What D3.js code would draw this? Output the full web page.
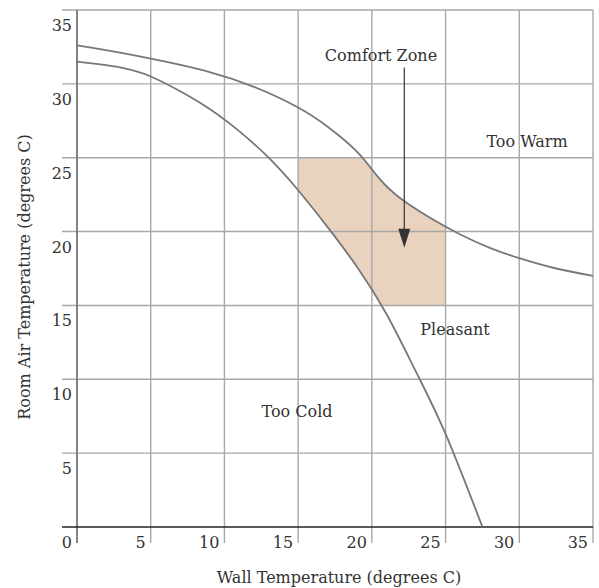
<!DOCTYPE html>
<html>
<head>
<meta charset="utf-8">
<script src="https://d3js.org/d3.v7.min.js"></script>
<style>
  body { margin: 0; background: #fff; }
  text { font-family: "DejaVu Serif", serif; fill: #333; }
</style>
</head>
<body>
<div id="chart"></div>
<script>
var svgWidth = 599;
var svgHeight = 588;

var margin = { top: 10, right: 6, bottom: 61, left: 77 };
var width = svgWidth - margin.left - margin.right;
var height = svgHeight - margin.top - margin.bottom;

// ticks
var xTicks = [0, 5, 10, 15, 20, 25, 30, 35];
var yTicks = [0, 5, 10, 15, 20, 25, 30, 35];

// boundary between "Too Warm" and the rest
var upperX = [0, 3, 6, 9, 12, 15, 17, 19, 20.5, 22, 24, 26, 28, 30, 32.5, 35];
var upperY = [32.6, 32.1, 31.5, 30.8, 29.8, 28.4, 27.1, 25.4, 23.6, 22.2, 20.9, 19.8, 18.9, 18.2, 17.5, 17.0];

// boundary between "Too Cold" and the rest
var lowerX = [0, 3, 5, 7, 9, 11, 13, 15, 17, 19, 21, 23, 25, 27.5];
var lowerY = [31.5, 31.1, 30.5, 29.5, 28.3, 26.8, 25.0, 22.8, 20.3, 17.6, 14.4, 10.5, 6.3, 0];

// comfort zone box (wall x, air y)
var zoneX = [15, 25];
var zoneY = [15, 25];

// arrow from label into the zone
var arrowX = 22.2;
var arrowFrom = 31.1;
var arrowTo = 18.9;

var upper = upperX.map((d, i) => ({ x: d, y: upperY[i] }));
var lower = lowerX.map((d, i) => ({ x: d, y: lowerY[i] }));

var svg = d3.select("#chart")
    .append("svg")
    .attr("width", svgWidth)
    .attr("height", svgHeight);

var chartGroup = svg.append("g")
    .attr("transform", `translate(${margin.left}, ${margin.top})`);

var x = d3.scaleLinear().domain([0, 35]).range([0, width]);
var y = d3.scaleLinear().domain([0, 35]).range([height, 0]);

var curve = d3.curveNatural;

// clip paths: below the upper curve and above the lower curve
var defs = svg.append("defs");
defs.append("clipPath").attr("id", "belowUpper")
    .append("path")
    .attr("d", d3.area().x(d => x(d.x)).y0(y(0)).y1(d => y(d.y)).curve(curve)(upper));
defs.append("clipPath").attr("id", "aboveLower")
    .append("path")
    .attr("d", d3.area().x(d => x(d.x)).y0(y(35)).y1(d => y(d.y)).curve(curve)(lower));

// shaded comfort zone
chartGroup.append("g")
    .attr("clip-path", "url(#belowUpper)")
    .append("rect")
    .attr("clip-path", "url(#aboveLower)")
    .attr("x", x(zoneX[0]))
    .attr("y", y(zoneY[1]))
    .attr("width", x(zoneX[1]) - x(zoneX[0]))
    .attr("height", y(zoneY[0]) - y(zoneY[1]))
    .attr("fill", "#e9d2be");

// grid
chartGroup.append("g").selectAll("line")
    .data(yTicks.filter(d => d > 0))
    .enter()
    .append("line")
    .attr("x1", -15)
    .attr("x2", width)
    .attr("y1", d => y(d))
    .attr("y2", d => y(d))
    .attr("stroke", "#a8a8a8")
    .attr("stroke-width", 1.4);

chartGroup.append("g").selectAll("line")
    .data(xTicks.filter(d => d > 0))
    .enter()
    .append("line")
    .attr("x1", d => x(d))
    .attr("x2", d => x(d))
    .attr("y1", 0)
    .attr("y2", height + 16)
    .attr("stroke", "#a8a8a8")
    .attr("stroke-width", 1.4);

// axes lines
chartGroup.append("line")
    .attr("x1", x(0)).attr("x2", x(0))
    .attr("y1", 0).attr("y2", height + 16)
    .attr("stroke", "#777")
    .attr("stroke-width", 1.8);

chartGroup.append("line")
    .attr("x1", -15).attr("x2", width)
    .attr("y1", y(0)).attr("y2", y(0))
    .attr("stroke", "#222")
    .attr("stroke-width", 1.6);

// tick labels
chartGroup.append("g").selectAll("text")
    .data(yTicks)
    .enter()
    .append("text")
    .attr("x", -5)
    .attr("y", d => y(d) + 21)
    .attr("text-anchor", "end")
    .style("font-size", "16px")
    .text(d => d);

chartGroup.append("g").selectAll("text")
    .data(xTicks.filter(d => d > 0))
    .enter()
    .append("text")
    .attr("x", d => x(d) - 5)
    .attr("y", height + 21)
    .attr("text-anchor", "end")
    .style("font-size", "16px")
    .text(d => d);

// boundary curves
var line = d3.line().x(d => x(d.x)).y(d => y(d.y)).curve(curve);

chartGroup.append("path")
    .datum(upper)
    .attr("d", line)
    .attr("fill", "none")
    .attr("stroke", "#777")
    .attr("stroke-width", 1.8);

chartGroup.append("path")
    .datum(lower)
    .attr("d", line)
    .attr("fill", "none")
    .attr("stroke", "#777")
    .attr("stroke-width", 1.8);

// arrow
chartGroup.append("line")
    .attr("x1", x(arrowX)).attr("x2", x(arrowX))
    .attr("y1", y(arrowFrom)).attr("y2", y(arrowTo) - 10)
    .attr("stroke", "#333")
    .attr("stroke-width", 1.2);

chartGroup.append("path")
    .attr("d", `M${x(arrowX) - 6},${y(arrowTo) - 19} L${x(arrowX) + 6},${y(arrowTo) - 19} L${x(arrowX)},${y(arrowTo)} Z`)
    .attr("fill", "#333");

// region labels
var labels = [
  { text: "Comfort Zone", px: 381, py: 61 },
  { text: "Too Warm", px: 527, py: 147 },
  { text: "Pleasant", px: 455, py: 335 },
  { text: "Too Cold", px: 297, py: 417 }
];
svg.append("g").selectAll("text")
    .data(labels)
    .enter()
    .append("text")
    .attr("x", d => d.px)
    .attr("y", d => d.py)
    .attr("text-anchor", "middle")
    .style("font-size", "16px")
    .text(d => d.text);

// axis titles
svg.append("text")
    .attr("transform", "translate(30, 277) rotate(-90)")
    .attr("text-anchor", "middle")
    .style("font-size", "16px")
    .text("Room Air Temperature (degrees C)");

svg.append("text")
    .attr("x", 339)
    .attr("y", 583)
    .attr("text-anchor", "middle")
    .style("font-size", "16px")
    .text("Wall Temperature (degrees C)");
</script>
</body>
</html>
